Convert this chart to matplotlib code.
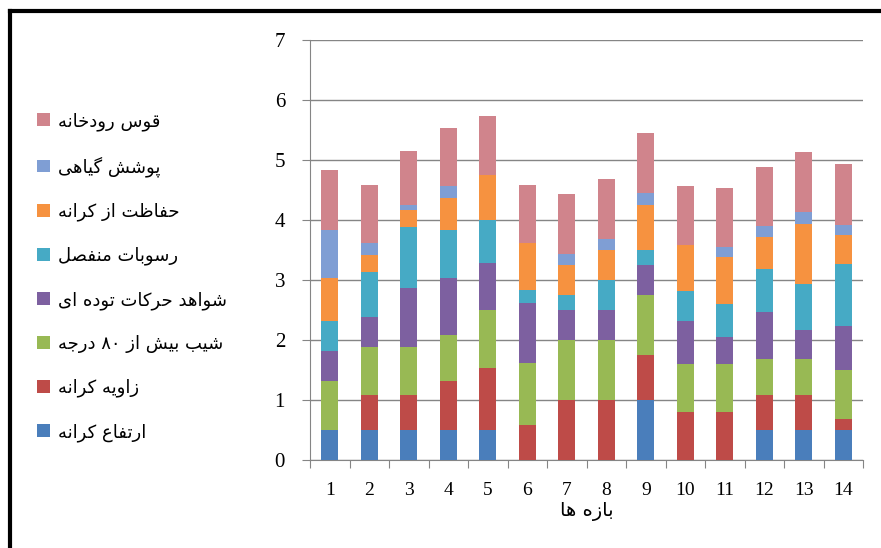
# stacked bar chart of bank erosion factors per reach

import matplotlib
matplotlib.use("Agg")
import matplotlib.pyplot as plt
from matplotlib.lines import Line2D
import numpy as np

reaches = list(range(1, 15))
series_names = ["ارتفاع کرانه", "زاویه کرانه", "شیب بیش از ۸۰ درجه",
                "شواهد حرکات توده ای", "رسوبات منفصل", "حفاظت از کرانه",
                "پوشش گیاهی", "قوس رودخانه"]
bank_height = [0.5, 0.5, 0.5, 0.5, 0.5, 0, 0, 0, 1.0, 0, 0, 0.5, 0.5, 0.5]
bank_angle = [0, 0.58, 0.58, 0.81, 1.03, 0.58, 1.0, 1.0, 0.75, 0.8, 0.8, 0.58, 0.58, 0.19]
slope_80 = [0.81, 0.81, 0.81, 0.78, 0.97, 1.03, 1.0, 1.0, 1.0, 0.8, 0.8, 0.61, 0.61, 0.81]
mass_movement = [0.5, 0.5, 0.97, 0.94, 0.78, 1.0, 0.5, 0.5, 0.5, 0.72, 0.45, 0.78, 0.47, 0.73]
loose_sediment = [0.5, 0.75, 1.03, 0.81, 0.72, 0.22, 0.25, 0.5, 0.25, 0.5, 0.55, 0.72, 0.78, 1.04]
bank_protection = [0.72, 0.28, 0.28, 0.53, 0.75, 0.78, 0.5, 0.5, 0.75, 0.77, 0.78, 0.53, 1.0, 0.48]
vegetation = [0.8, 0.19, 0.08, 0.19, 0, 0, 0.19, 0.19, 0.2, 0, 0.17, 0.18, 0.2, 0.17]
meander = [1.0, 0.97, 0.9, 0.98, 0.98, 0.97, 1.0, 1.0, 1.0, 0.97, 0.99, 0.98, 1.0, 1.01]
x_label = "بازه ها"

colors = ["#4A7EBB", "#BE4B48", "#98B954", "#7D60A0", "#46AAC5", "#F69240", "#7F9ED4", "#D0848C"]

# matplotlib has no arabic shaping, so do a tiny one by hand
FORMS = {
    'ا': ('\uFE8D', '\uFE8E'), 'ب': ('\uFE8F', '\uFE90', '\uFE91', '\uFE92'),
    'ت': ('\uFE95', '\uFE96', '\uFE97', '\uFE98'), 'ج': ('\uFE9D', '\uFE9E', '\uFE9F', '\uFEA0'),
    'ح': ('\uFEA1', '\uFEA2', '\uFEA3', '\uFEA4'), 'خ': ('\uFEA5', '\uFEA6', '\uFEA7', '\uFEA8'),
    'د': ('\uFEA9', '\uFEAA'), 'ر': ('\uFEAD', '\uFEAE'), 'ز': ('\uFEAF', '\uFEB0'),
    'س': ('\uFEB1', '\uFEB2', '\uFEB3', '\uFEB4'), 'ش': ('\uFEB5', '\uFEB6', '\uFEB7', '\uFEB8'),
    'ص': ('\uFEB9', '\uFEBA', '\uFEBB', '\uFEBC'), 'ظ': ('\uFEC5', '\uFEC6', '\uFEC7', '\uFEC8'),
    'ع': ('\uFEC9', '\uFECA', '\uFECB', '\uFECC'), 'ف': ('\uFED1', '\uFED2', '\uFED3', '\uFED4'),
    'ق': ('\uFED5', '\uFED6', '\uFED7', '\uFED8'), 'ل': ('\uFEDD', '\uFEDE', '\uFEDF', '\uFEE0'),
    'م': ('\uFEE1', '\uFEE2', '\uFEE3', '\uFEE4'), 'ن': ('\uFEE5', '\uFEE6', '\uFEE7', '\uFEE8'),
    'ه': ('\uFEE9', '\uFEEA', '\uFEEB', '\uFEEC'), 'و': ('\uFEED', '\uFEEE'),
    'پ': ('\uFB56', '\uFB57', '\uFB58', '\uFB59'), 'ک': ('\uFB8E', '\uFB8F', '\uFB90', '\uFB91'),
    'گ': ('\uFB92', '\uFB93', '\uFB94', '\uFB95'), 'ی': ('\uFBFC', '\uFBFD', '\uFBFE', '\uFBFF'),
}

def shape(s):
    out = []
    for i, c in enumerate(s):
        if c not in FORMS:
            out.append(c)
            continue
        prev = s[i - 1] if i > 0 else ''
        nxt = s[i + 1] if i < len(s) - 1 else ''
        join_prev = prev in FORMS and len(FORMS[prev]) == 4
        join_next = len(FORMS[c]) == 4 and nxt in FORMS
        f = FORMS[c]
        if join_prev and join_next:
            out.append(f[3])
        elif join_prev:
            out.append(f[1])
        elif join_next:
            out.append(f[2])
        else:
            out.append(f[0])
    vis = out[::-1]
    # digits keep left-to-right order
    res, run = [], []
    for c in vis:
        if c.isdigit():
            run.append(c)
        else:
            res.extend(run[::-1]); run = []
            res.append(c)
    res.extend(run[::-1])
    return ''.join(res)

data = [bank_height, bank_angle, slope_80, mass_movement, loose_sediment,
        bank_protection, vegetation, meander]

fig = plt.figure(figsize=(8.81, 5.48), dpi=100)
ax = fig.add_axes([310 / 881, 1 - 460 / 548, 553 / 881, 420 / 548])

bottom = np.zeros(len(reaches))
bars = []
for vals, name, col in zip(data, series_names, colors):
    b = ax.bar(reaches, vals, 0.42, bottom=bottom, color=col, label=shape(name), zorder=3)
    bars.append(b)
    bottom += np.array(vals)

ax.set_xlim(0.5, 14.5)
ax.set_ylim(0, 7)
ax.set_yticks(range(8))
ax.yaxis.grid(True, color="#858585", linewidth=1, zorder=0)
for s in ["top", "right"]:
    ax.spines[s].set_visible(False)
for s in ["left", "bottom"]:
    ax.spines[s].set_color("#858585")

ax.set_xticks(np.arange(0.5, 15, 1))
ax.set_xticklabels([])
ax.set_xticks(reaches, minor=True)
ax.set_xticklabels([str(r) for r in reaches], minor=True, fontsize=14, family="Liberation Serif")
ax.tick_params(axis="x", which="major", length=6, color="#858585", direction="out")
ax.tick_params(axis="x", which="minor", length=0, pad=16)
ax.tick_params(axis="y", length=6, color="#858585", pad=12, labelsize=15)
for t in ax.get_yticklabels():
    t.set_family("Liberation Serif")
ax.set_xlabel(shape(x_label), fontsize=14, family="DejaVu Sans", labelpad=2)

handles = bars[::-1]
fig.legend(handles, [shape(n) for n in series_names[::-1]], loc="upper left",
           bbox_to_anchor=(37 / 881, 1 - 112 / 548), frameon=False, borderpad=0,
           borderaxespad=0, handlelength=0.72, handleheight=0.72, handletextpad=0.45,
           labelspacing=1.42, prop={"family": "DejaVu Sans", "size": 13})

# black frame on left and top
fig.add_artist(Line2D([10 / 881, 10 / 881], [0, 1 - 11 / 548], color="black", lw=3, transform=fig.transFigure))
fig.add_artist(Line2D([10 / 881, 1], [1 - 11 / 548, 1 - 11 / 548], color="black", lw=3, transform=fig.transFigure))

fig.savefig("out.png", dpi=100)
